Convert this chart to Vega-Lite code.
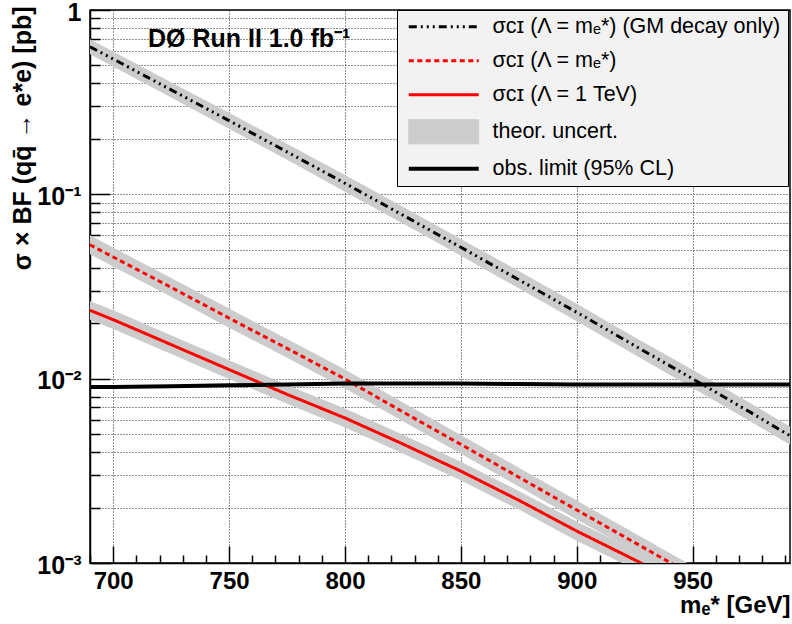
{
  "$schema": "https://vega.github.io/schema/vega-lite/v6.json",
  "width": 700,
  "height": 553,
  "autosize": {"type": "none"},
  "padding": {"left": 90, "top": 10, "right": 2, "bottom": 61},
  "background": "white",
  "config": {"view": {"stroke": "#000000", "strokeWidth": 1.5}, "font": "Liberation Sans"},
  "datasets": {
    "curves": [
      {"s": "gm", "m": 690, "v": 0.632, "lo": 0.575, "hi": 0.695},
      {"s": "gm", "m": 700, "v": 0.542, "lo": 0.493, "hi": 0.596},
      {"s": "gm", "m": 725, "v": 0.369, "lo": 0.335, "hi": 0.406},
      {"s": "gm", "m": 750, "v": 0.251, "lo": 0.227, "hi": 0.277},
      {"s": "gm", "m": 775, "v": 0.170, "lo": 0.154, "hi": 0.188},
      {"s": "gm", "m": 800, "v": 0.1148, "lo": 0.1034, "hi": 0.1274},
      {"s": "gm", "m": 825, "v": 0.0771, "lo": 0.0695, "hi": 0.0856},
      {"s": "gm", "m": 850, "v": 0.0516, "lo": 0.0465, "hi": 0.0573},
      {"s": "gm", "m": 875, "v": 0.0344, "lo": 0.0309, "hi": 0.0384},
      {"s": "gm", "m": 900, "v": 0.0229, "lo": 0.0205, "hi": 0.0255},
      {"s": "gm", "m": 925, "v": 0.0151, "lo": 0.0135, "hi": 0.0168},
      {"s": "gm", "m": 950, "v": 0.00998, "lo": 0.00891, "hi": 0.01118},
      {"s": "gm", "m": 975, "v": 0.00656, "lo": 0.00586, "hi": 0.00735},
      {"s": "gm", "m": 992, "v": 0.0049, "lo": 0.00438, "hi": 0.00549},
      {"s": "lam", "m": 690, "v": 0.0532, "lo": 0.0473, "hi": 0.0599},
      {"s": "lam", "m": 700, "v": 0.0457, "lo": 0.0406, "hi": 0.0514},
      {"s": "lam", "m": 725, "v": 0.0313, "lo": 0.0278, "hi": 0.0352},
      {"s": "lam", "m": 750, "v": 0.0213, "lo": 0.0189, "hi": 0.0240},
      {"s": "lam", "m": 775, "v": 0.0146, "lo": 0.0130, "hi": 0.0164},
      {"s": "lam", "m": 800, "v": 0.00996, "lo": 0.00885, "hi": 0.01121},
      {"s": "lam", "m": 825, "v": 0.0066, "lo": 0.00587, "hi": 0.00743},
      {"s": "lam", "m": 850, "v": 0.0044, "lo": 0.00391, "hi": 0.00495},
      {"s": "lam", "m": 875, "v": 0.00292, "lo": 0.00260, "hi": 0.00329},
      {"s": "lam", "m": 900, "v": 0.00194, "lo": 0.00172, "hi": 0.00218},
      {"s": "lam", "m": 925, "v": 0.00129, "lo": 0.00115, "hi": 0.00145},
      {"s": "lam", "m": 950, "v": 0.000857, "lo": 0.000762, "hi": 0.000964},
      {"s": "tev", "m": 690, "v": 0.0235, "lo": 0.0209, "hi": 0.0264},
      {"s": "tev", "m": 700, "v": 0.0209, "lo": 0.0186, "hi": 0.0235},
      {"s": "tev", "m": 725, "v": 0.0153, "lo": 0.0136, "hi": 0.0172},
      {"s": "tev", "m": 750, "v": 0.0112, "lo": 0.00996, "hi": 0.0126},
      {"s": "tev", "m": 775, "v": 0.00822, "lo": 0.00731, "hi": 0.00925},
      {"s": "tev", "m": 800, "v": 0.00612, "lo": 0.00544, "hi": 0.00689},
      {"s": "tev", "m": 825, "v": 0.00442, "lo": 0.00393, "hi": 0.00497},
      {"s": "tev", "m": 850, "v": 0.00315, "lo": 0.00280, "hi": 0.00354},
      {"s": "tev", "m": 875, "v": 0.00219, "lo": 0.00195, "hi": 0.00246},
      {"s": "tev", "m": 900, "v": 0.00149, "lo": 0.00132, "hi": 0.00168},
      {"s": "tev", "m": 925, "v": 0.00104, "lo": 0.000924, "hi": 0.00117},
      {"s": "tev", "m": 950, "v": 0.00072, "lo": 0.00064, "hi": 0.00081},
      {"s": "obs", "m": 690, "v": 0.0090},
      {"s": "obs", "m": 700, "v": 0.0090},
      {"s": "obs", "m": 725, "v": 0.0091},
      {"s": "obs", "m": 750, "v": 0.0092},
      {"s": "obs", "m": 775, "v": 0.0093},
      {"s": "obs", "m": 800, "v": 0.0094},
      {"s": "obs", "m": 825, "v": 0.00942},
      {"s": "obs", "m": 850, "v": 0.0094},
      {"s": "obs", "m": 875, "v": 0.00935},
      {"s": "obs", "m": 900, "v": 0.0093},
      {"s": "obs", "m": 925, "v": 0.0093},
      {"s": "obs", "m": 950, "v": 0.0093},
      {"s": "obs", "m": 975, "v": 0.0093},
      {"s": "obs", "m": 992, "v": 0.0093}
    ]
  },
  "encoding": {
    "x": {
      "field": "m",
      "type": "quantitative",
      "scale": {"domain": [690, 992], "nice": false, "zero": false},
      "axis": {
        "title": "mₑ* [GeV]",
        "titleFont": "Liberation Sans",
        "titleFontSize": 24,
        "titleFontWeight": "bold",
        "titleColor": "#000000",
        "titleAnchor": "end",
        "titleAlign": "right",
        "titleBaseline": "alphabetic",
        "titleX": 700,
        "titleY": 49,
        "values": [690, 700, 710, 720, 730, 740, 750, 760, 770, 780, 790, 800, 810, 820, 830, 840, 850, 860, 870, 880, 890, 900, 910, 920, 930, 940, 950, 960, 970, 980, 990],
        "labelExpr": "datum.value % 50 === 0 ? datum.label : ''",
        "labelFont": "Liberation Sans",
        "labelFontSize": 24,
        "labelFontWeight": "bold",
        "labelColor": "#000000",
        "labelOverlap": false,
        "labelFlush": false,
        "labelBaseline": "top",
        "labelPadding": 23,
        "tickSize": {"condition": {"test": "datum.value % 50 === 0", "value": -17}, "value": -8},
        "tickColor": "#000000",
        "tickWidth": 1.5,
        "domainColor": "#000000",
        "domainWidth": 1.5,
        "grid": true,
        "gridColor": "#222222",
        "gridDash": [1, 2],
        "gridWidth": 1,
        "gridOpacity": {"condition": {"test": "datum.value % 50 === 0", "value": 1}, "value": 0}
      }
    },
    "y": {
      "field": "v",
      "type": "quantitative",
      "scale": {"type": "log", "domain": [0.001, 1], "nice": false},
      "axis": {
        "title": "σ × BF (qq̄ → e*e) [pb]",
        "titleFont": "Liberation Sans",
        "titleFontSize": 25,
        "titleFontWeight": "bold",
        "titleColor": "#000000",
        "titleAngle": -90,
        "titleAlign": "right",
        "titleBaseline": "alphabetic",
        "titleX": -60,
        "titleY": -4,
        "values": [0.001, 0.002, 0.003, 0.004, 0.005, 0.006, 0.007, 0.008, 0.009, 0.01, 0.02, 0.03, 0.04, 0.05, 0.06, 0.07, 0.08, 0.09, 0.1, 0.2, 0.3, 0.4, 0.5, 0.6, 0.7, 0.8, 0.9, 1],
        "labelExpr": "datum.value === 1 ? '1' : datum.value === 0.1 ? '10⁻¹' : datum.value === 0.01 ? '10⁻²' : datum.value === 0.001 ? '10⁻³' : ''",
        "labelFont": "Liberation Sans",
        "labelFontSize": 25,
        "labelFontWeight": "bold",
        "labelColor": "#000000",
        "labelOverlap": false,
        "labelFlush": false,
        "labelPadding": 29,
        "labelOffset": 2,
        "tickSize": {"condition": {"test": "datum.value === 1 || datum.value === 0.1 || datum.value === 0.01 || datum.value === 0.001", "value": -20}, "value": -10},
        "tickColor": "#000000",
        "tickWidth": 1.5,
        "domainColor": "#000000",
        "domainWidth": 1.5,
        "grid": true,
        "gridColor": "#222222",
        "gridDash": [1, 2],
        "gridWidth": 1
      }
    }
  },
  "layer": [
    {
      "data": {"name": "curves"},
      "transform": [{"filter": "datum.s !== 'obs'"}],
      "mark": {"type": "area", "color": "#cccccc", "opacity": 1, "clip": true},
      "encoding": {
        "y": {"field": "lo", "type": "quantitative"},
        "y2": {"field": "hi"},
        "detail": {"field": "s", "type": "nominal"}
      }
    },
    {
      "data": {"name": "curves"},
      "transform": [{"filter": "datum.s !== 'obs'"}],
      "mark": {"type": "line", "strokeWidth": 3, "clip": true},
      "encoding": {
        "color": {
          "field": "s",
          "type": "nominal",
          "scale": {"domain": ["gm", "lam", "tev", "unc", "obs"], "range": ["#000000", "#ff0000", "#ff0000", "#cccccc", "#000000"]},
          "legend": {
            "orient": "none",
            "legendX": 307,
            "legendY": 0,
            "title": null,
            "fillColor": "#f2f2f2",
            "strokeColor": "#000000",
            "padding": 6,
            "symbolType": "stroke",
            "symbolSize": 484,
            "symbolStrokeWidth": 3,
            "symbolOffset": 30,
            "labelOffset": 38,
            "rowPadding": 11,
            "labelFont": "Liberation Sans",
            "labelFontSize": 21.5,
            "labelColor": "#000000",
            "labelLimit": 400,
            "labelExpr": "datum.value === 'gm' ? 'σᴄɪ (Λ = mₑ*) (GM decay only)' : datum.value === 'lam' ? 'σᴄɪ (Λ = mₑ*)' : datum.value === 'tev' ? 'σᴄɪ (Λ = 1 TeV)' : datum.value === 'unc' ? 'theor. uncert.' : 'obs. limit (95% CL)'",
            "encode": {
              "symbols": {
                "update": {
                  "size": {"value": 484},
                  "shape": {"signal": "datum.value === 'unc' ? 'M-3.18,-1.1H3.18V1.1H-3.18Z' : 'M-3.18,0H3.18'"},
                  "fill": {"signal": "datum.value === 'unc' ? '#cccccc' : 'transparent'"},
                  "stroke": {"signal": "datum.value === 'unc' ? '#444444' : (datum.value === 'lam' || datum.value === 'tev') ? '#ff0000' : '#000000'"},
                  "strokeWidth": {"signal": "datum.value === 'unc' ? 1 : datum.value === 'obs' ? 4 : 3"},
                  "strokeDash": {"signal": "datum.value === 'gm' ? [8, 4, 2, 4, 2, 4, 2, 4] : datum.value === 'lam' ? [5, 3.5] : [1, 0]"},
                  "opacity": {"value": 1}
                }
              }
            }
          }
        },
        "strokeDash": {
          "field": "s",
          "type": "nominal",
          "scale": {"domain": ["gm", "lam", "tev", "unc", "obs"], "range": [[8, 4, 2, 4, 2, 4, 2, 4], [5, 3.5], [1, 0], [1, 0], [1, 0]]},
          "legend": null
        }
      }
    },
    {
      "data": {"name": "curves"},
      "transform": [{"filter": "datum.s === 'obs'"}],
      "mark": {"type": "line", "strokeWidth": 4, "clip": true},
      "encoding": {
        "color": {"field": "s", "type": "nominal"}
      }
    },
    {
      "data": {"values": [{"m": 715, "v": 0.63, "t": "DØ Run II 1.0 fb⁻¹"}]},
      "mark": {"type": "text", "align": "left", "baseline": "alphabetic", "font": "Liberation Sans", "fontWeight": "bold", "fontSize": 25, "color": "#000000"},
      "encoding": {
        "text": {"field": "t"}
      }
    }
  ]
}
